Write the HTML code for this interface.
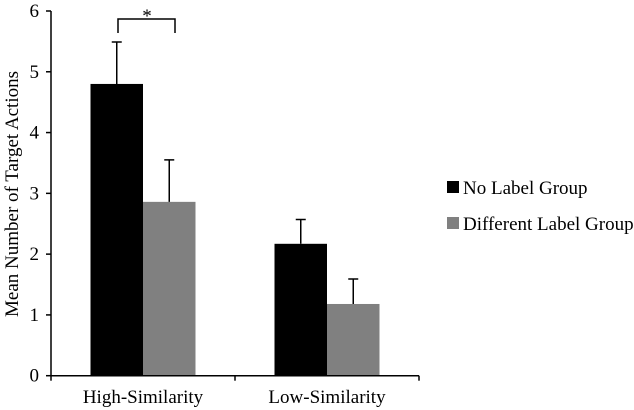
<!DOCTYPE html>
<html><head><meta charset="utf-8"><style>
body{margin:0;background:#fff}
svg{display:block;font-family:"Liberation Serif",serif}
</style></head><body>
<svg id="chart" width="634" height="410" viewBox="0 0 634 410">
<g id="marks"></g>
<g id="axes"></g>
<text transform="translate(18,194) rotate(-90)" text-anchor="middle" font-size="19">Mean Number of Target Actions</text>
<g>
<path d="M118,33 V19 H175 V33" fill="none" stroke="#000" stroke-width="1.5"/>
<text x="147" y="22" text-anchor="middle" font-size="19">*</text>
</g>
<g>
<g><rect x="447" y="181" width="12" height="12" fill="#000"/><text x="463" y="194" font-size="19">No Label Group</text></g>
<g><rect x="447" y="217" width="12" height="12" fill="#808080"/><text x="463" y="230" font-size="19">Different Label Group</text></g>
</g>
</svg>
<script>
const categories=["High-Similarity","Low-Similarity"];
const noLabel=[4.8,2.17];
const noLabelErr=[0.69,0.4];
const diffLabel=[2.86,1.18];
const diffLabelErr=[0.69,0.41];
const yTicks=[0,1,2,3,4,5,6];
const ns="http://www.w3.org/2000/svg";
const x0=51,x1=419,yBase=375.7,yTop=11;
const y=v=>yBase-(yBase-yTop)*v/6;
const groupW=(x1-x0)/categories.length;
const cx=i=>x0+groupW*(i+0.5);
function mk(t,a,p){const e=document.createElementNS(ns,t);for(const k in a)e.setAttribute(k,a[k]);(p||document.getElementById('marks')).appendChild(e);return e;}
const bw=52.5;
const series=[[noLabel,noLabelErr,"#000","no-label"],[diffLabel,diffLabelErr,"#808080","different-label"]];
categories.forEach((c,i)=>{
 series.forEach((s,j)=>{
  const v=s[0][i],e=s[1][i];
  const bx=cx(i)-bw+j*bw;
  const r=mk('rect',{x:bx,y:y(v),width:bw,height:yBase-y(v),fill:s[2]});
  
  
  const mx=bx+bw/2;
  const g=mk('path',{d:`M${mx},${y(v)} V${y(v+e)} M${mx-5},${y(v+e)} H${mx+5}`,stroke:"#000","stroke-width":1.5,fill:"none"});
  
  
 });
});
const ax=document.getElementById('axes');
let l=mk('path',{d:`M${x0},${yTop} V${yBase} H${x1}`,stroke:"#000","stroke-width":1.5,fill:"none"},ax);


yTicks.forEach(t=>{
 mk('line',{x1:x0-5,x2:x0,y1:y(t),y2:y(t),stroke:"#000","stroke-width":1.5},ax);
 const tx=mk('text',{x:x0-12,y:y(t)+6,"text-anchor":"end","font-size":19},ax);
 tx.textContent=t;
 
 
});
for(let i=0;i<=categories.length;i++){const xx=x0+groupW*i;mk('line',{x1:xx,x2:xx,y1:yBase,y2:yBase+5,stroke:"#000","stroke-width":1.5},ax);}
categories.forEach((c,i)=>{
 const tx=mk('text',{x:cx(i),y:403,"text-anchor":"middle","font-size":19},ax);
 tx.textContent=c;
 
 
});
</script>
</body></html>
